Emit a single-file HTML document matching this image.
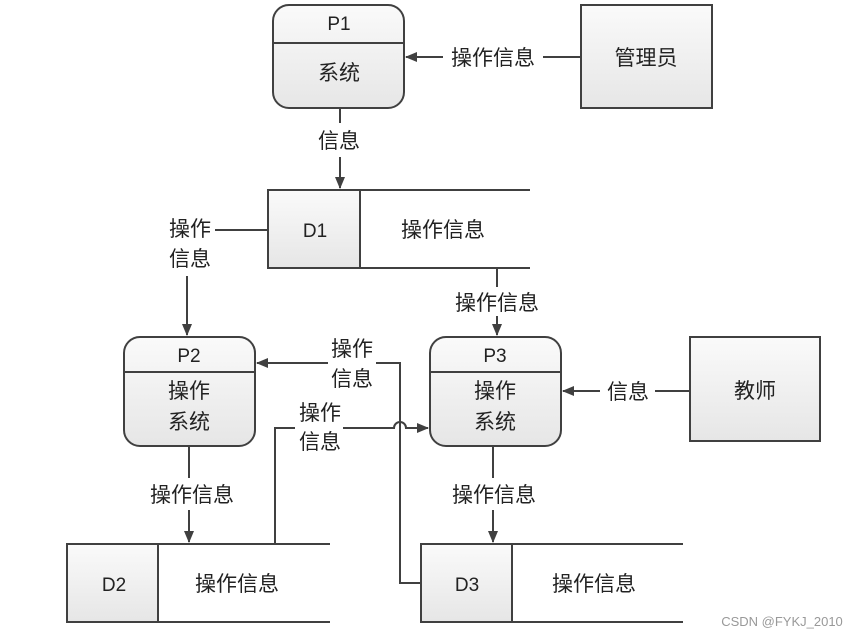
<!DOCTYPE html>
<html><head><meta charset="utf-8"><style>
body{margin:0;background:#fff}
svg text{font-family:"Liberation Sans","Noto Sans CJK SC",sans-serif;font-size:21px;fill:#222;text-anchor:middle}
</style></head><body>
<svg width="858" height="636" viewBox="0 0 858 636">
<defs>
<linearGradient id="g" x1="0" y1="0" x2="0" y2="1"><stop offset="0" stop-color="#fafafa"/><stop offset="1" stop-color="#e6e6e6"/></linearGradient>
<marker id="a" markerWidth="12" markerHeight="10" refX="11" refY="5" orient="auto" markerUnits="userSpaceOnUse"><path d="M0,0 L12,5 L0,10 z" fill="#404040"/></marker>
</defs>
<g stroke="#404040" stroke-width="2" fill="none">
<!-- P1 -->
<rect x="273" y="5" width="131" height="103" rx="16" fill="url(#g)"/>
<line x1="273" y1="43" x2="404" y2="43"/>
<rect x="581" y="5" width="131" height="103" fill="url(#g)"/>
<line x1="581" y1="57" x2="543" y2="57"/>
<line x1="443" y1="57" x2="406" y2="57" marker-end="url(#a)"/>
<line x1="340" y1="108" x2="340" y2="123"/>
<line x1="340" y1="157" x2="340" y2="188" marker-end="url(#a)"/>
<!-- D1 -->
<rect x="268" y="190" width="92" height="78" fill="url(#g)"/>
<line x1="268" y1="190" x2="530" y2="190"/><line x1="268" y1="268" x2="530" y2="268"/>
<line x1="268" y1="230" x2="215" y2="230"/>
<line x1="187" y1="276" x2="187" y2="335" marker-end="url(#a)"/>
<line x1="497" y1="268" x2="497" y2="287"/>
<line x1="497" y1="316" x2="497" y2="335" marker-end="url(#a)"/>
<!-- P2 P3 -->
<rect x="124" y="337" width="131" height="109" rx="16" fill="url(#g)"/>
<line x1="124" y1="372" x2="255" y2="372"/>
<rect x="430" y="337" width="131" height="109" rx="16" fill="url(#g)"/>
<line x1="430" y1="372" x2="561" y2="372"/>
<rect x="690" y="337" width="130" height="104" fill="url(#g)"/>
<line x1="690" y1="391" x2="655" y2="391"/>
<line x1="600" y1="391" x2="563" y2="391" marker-end="url(#a)"/>
<line x1="189" y1="446" x2="189" y2="478"/>
<line x1="189" y1="510" x2="189" y2="542" marker-end="url(#a)"/>
<line x1="493" y1="446" x2="493" y2="478"/>
<line x1="493" y1="510" x2="493" y2="542" marker-end="url(#a)"/>
<!-- D2 D3 -->
<rect x="67" y="544" width="91" height="78" fill="url(#g)"/>
<line x1="67" y1="544" x2="330" y2="544"/><line x1="67" y1="622" x2="330" y2="622"/>
<rect x="421" y="544" width="91" height="78" fill="url(#g)"/>
<line x1="421" y1="544" x2="683" y2="544"/><line x1="421" y1="622" x2="683" y2="622"/>
<!-- crossing lines -->
<path d="M421,583 H400 V363 H376"/>
<line x1="328" y1="363" x2="257" y2="363" marker-end="url(#a)"/>
<path d="M275,544 V428 H295"/>
<path d="M343,428 H394 A6,6 0 0 1 406,428 H428" marker-end="url(#a)"/>
</g>
<text x="339" y="30" style="font-size:19px">P1</text>
<text x="339" y="80">系统</text>
<text x="646" y="65">管理员</text>
<text x="493" y="65">操作信息</text>
<text x="339" y="148">信息</text>
<text x="315" y="237" style="font-size:19px">D1</text>
<text x="443" y="237">操作信息</text>
<text x="190" y="236">操作</text><text x="190" y="266">信息</text>
<text x="497" y="310">操作信息</text>
<text x="189" y="362" style="font-size:19px">P2</text>
<text x="189" y="398">操作</text><text x="189" y="429">系统</text>
<text x="495" y="362" style="font-size:19px">P3</text>
<text x="495" y="398">操作</text><text x="495" y="429">系统</text>
<text x="755" y="398">教师</text>
<text x="628" y="399">信息</text>
<text x="352" y="356">操作</text><text x="352" y="386">信息</text>
<text x="320" y="420">操作</text><text x="320" y="449">信息</text>
<text x="192" y="502">操作信息</text>
<text x="494" y="502">操作信息</text>
<text x="114" y="591" style="font-size:19px">D2</text>
<text x="237" y="591">操作信息</text>
<text x="467" y="591" style="font-size:19px">D3</text>
<text x="594" y="591">操作信息</text>
<text x="782" y="626" style="font-size:13px;fill:#999">CSDN @FYKJ_2010</text>
</svg>
</body></html>
